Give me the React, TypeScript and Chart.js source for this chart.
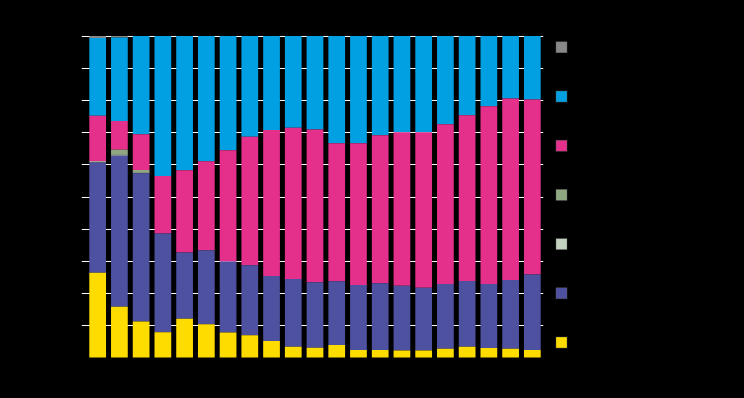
import React, { useEffect, useRef } from "react";
import { Chart, registerables } from "chart.js";

Chart.register(...registerables);

const categories = [
  "1996", "1997", "1998", "1999", "2000", "2001", "2002", "2003", "2004", "2005", "2006",
  "2007", "2008", "2009", "2010", "2011", "2012", "2013", "2014", "2015", "2016",
];

const yellowValues = [26.5, 15.9, 11.3, 8.0, 12.2, 10.5, 7.9, 7.1, 5.3, 3.5, 3.2, 4.0, 2.5, 2.5, 2.3, 2.3, 2.9, 3.5, 3.1, 2.9, 2.5];
const darkBlueValues = [34.2, 46.9, 46.1, 30.7, 20.6, 23.0, 22.1, 21.7, 20.2, 21.0, 20.3, 19.8, 20.2, 20.7, 20.1, 19.5, 20.1, 20.4, 19.9, 21.3, 23.4];
const lightGreenValues = [0.4, 0.4, 0.2, 0, 0, 0, 0, 0, 0, 0, 0, 0, 0, 0, 0, 0, 0, 0, 0, 0, 0];
const greenValues = [0, 1.5, 0.8, 0, 0, 0, 0, 0, 0, 0, 0, 0, 0, 0, 0, 0, 0, 0, 0, 0, 0];
const pinkValues = [14.1, 8.9, 11.1, 17.8, 25.5, 27.6, 34.5, 39.9, 45.3, 47.0, 47.5, 42.9, 44.0, 46.0, 47.7, 48.3, 49.6, 51.5, 55.2, 56.4, 54.4];
const blueValues = [24.2, 25.9, 30.5, 43.5, 41.7, 38.9, 35.5, 31.3, 29.2, 28.5, 29.0, 33.3, 33.3, 30.8, 29.9, 29.9, 27.4, 24.6, 21.8, 19.4, 19.7];
const greyValues = [0.6, 0.5, 0, 0, 0, 0, 0, 0, 0, 0, 0, 0, 0, 0, 0, 0, 0, 0, 0, 0, 0];

const seriesNames = ["Series A", "Series B", "Series C", "Series D", "Series E", "Series F", "Other"];
const yTickValues = [0, 10, 20, 30, 40, 50, 60, 70, 80, 90, 100];

const COLORS = ["#FFDC00", "#4E51A0", "#C3D3BF", "#8FA882", "#E4308A", "#00A0E2", "#888888"];

export default function App() {
  const ref = useRef<HTMLCanvasElement | null>(null);

  useEffect(() => {
    document.body.style.margin = "0";
    document.body.style.background = "#000";
    const canvas = ref.current;
    if (!canvas) return;

    const values = [yellowValues, darkBlueValues, lightGreenValues, greenValues, pinkValues, blueValues, greyValues];

    const legendPlugin = {
      id: "customLegend",
      afterDraw(chart: any) {
        const ctx = chart.ctx;
        const ds = chart.data.datasets;
        ctx.save();
        ctx.font = "11px Arial, 'Liberation Sans', sans-serif";
        ctx.textBaseline = "middle";
        for (let k = 0; k < ds.length; k++) {
          const idx = ds.length - 1 - k;
          const cy = 47.3 + k * 49.2;
          ctx.fillStyle = ds[idx].backgroundColor;
          ctx.fillRect(556, cy - 5.5, 11, 11);
          ctx.strokeStyle = "rgba(90,90,90,0.8)";
          ctx.lineWidth = 0.5;
          ctx.strokeRect(556, cy - 5.5, 11, 11);
          ctx.fillStyle = "#000";
          ctx.fillText(ds[idx].label, 574, cy);
        }
        ctx.restore();
      },
    };

    const chart = new Chart(canvas, {
      type: "bar",
      data: {
        labels: categories,
        datasets: values.map((v, i) => ({
          label: seriesNames[i],
          data: v,
          backgroundColor: COLORS[i],
          borderWidth: 0,
          categoryPercentage: 0.77,
          barPercentage: 1,
        })),
      },
      options: {
        animation: false,
        responsive: false,
        maintainAspectRatio: false,
        layout: { padding: { top: 36, right: 200.8, bottom: 0, left: 0 } },
        plugins: {
          legend: { display: false },
          tooltip: { enabled: false },
          title: { display: false },
        },
        scales: {
          x: {
            stacked: true,
            grid: { display: false },
            border: { display: false },
            ticks: { color: "#000", font: { size: 11 } },
            afterFit(scale: any) {
              scale.height = 40;
            },
          },
          y: {
            stacked: true,
            min: 0,
            max: 100,
            afterBuildTicks(scale: any) {
              scale.ticks = yTickValues.map((v) => ({ value: v }));
            },
            grid: {
              color: (c: any) => (c.tick && c.tick.value === 0 ? "rgba(0,0,0,0)" : "#ffffff"),
              lineWidth: 1,
              tickLength: 5,
            },
            border: { display: false },
            ticks: {
              color: "#000",
              font: { size: 11 },
              callback: (v: any) => v + "%",
            },
            afterFit(scale: any) {
              scale.width = 86.8;
            },
          },
        },
      },
      plugins: [legendPlugin],
    });

    return () => chart.destroy();
  }, []);

  return (
    <div style={{ width: 744, height: 398, background: "#000" }}>
      <canvas ref={ref} width={744} height={398} style={{ display: "block" }} />
    </div>
  );
}
